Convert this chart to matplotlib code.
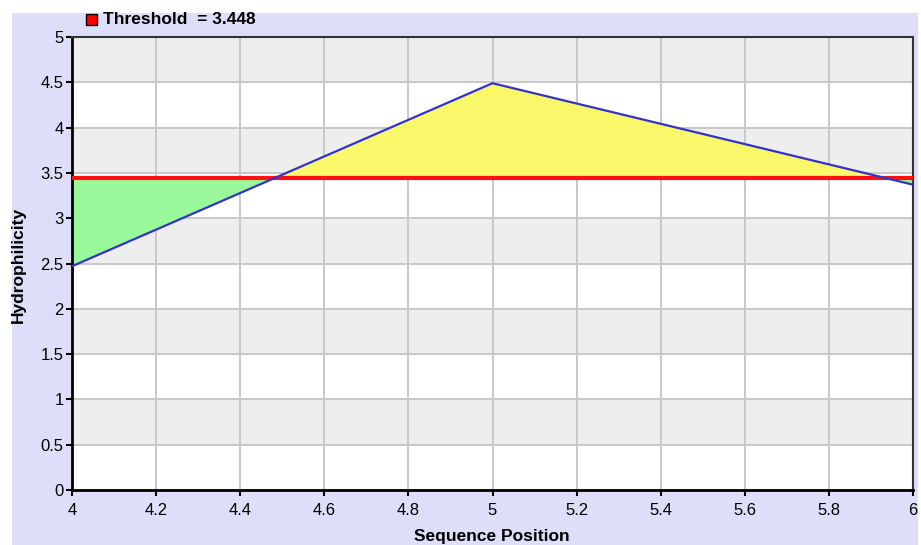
import numpy as np
import matplotlib.pyplot as plt
from matplotlib.patches import Rectangle

# data
positions = [4, 5, 6]
hydrophilicity = [2.47, 4.49, 3.37]
threshold = 3.448

x_ticks = [4, 4.2, 4.4, 4.6, 4.8, 5, 5.2, 5.4, 5.6, 5.8, 6]
x_tick_labels = ["4", "4.2", "4.4", "4.6", "4.8", "5", "5.2", "5.4", "5.6", "5.8", "6"]
y_ticks = [0, 0.5, 1, 1.5, 2, 2.5, 3, 3.5, 4, 4.5, 5]
y_tick_labels = ["0", "0.5", "1", "1.5", "2", "2.5", "3", "3.5", "4", "4.5", "5"]

plt.rcParams['font.family'] = ['Liberation Sans', 'DejaVu Sans']

fig = plt.figure(figsize=(9.21, 5.45), dpi=100)
fig.patch.set_facecolor("white")
fig.patches.append(Rectangle((0.013, 0.0), 0.984, 0.976, transform=fig.transFigure,
                             facecolor="#DEDEF8", edgecolor="none", zorder=-10))

ax = fig.add_axes([0.0782, 0.1009, 0.9131, 0.8312])
ax.set_facecolor("white")
ax.set_xlim(4, 6)
ax.set_ylim(0, 5)

# alternating bands
for i, lo in enumerate(y_ticks[:-1]):
    if i % 2 == 1:
        ax.axhspan(lo, lo + 0.5, color="#EEEEEE", zorder=0, lw=0)

ax.set_axisbelow(True)
ax.grid(True, color="#C8C8C8", linewidth=1.4, zorder=1)

x = np.array(positions, dtype=float)
y = np.array(hydrophilicity)
ax.fill_between(x, y, threshold, where=y >= threshold, interpolate=True,
                color="#F8F86A", lw=0, zorder=2)
ax.fill_between(x, y, threshold, where=y <= threshold, interpolate=True,
                color="#99F899", lw=0, zorder=2)
ax.axhline(threshold, color="#FF1010", linewidth=3, zorder=3)
ax.plot(x, y, color="#3333CC", linewidth=1.6, zorder=4)

ax.set_xticks(x_ticks)
ax.set_xticklabels(x_tick_labels)
ax.set_yticks(y_ticks)
ax.set_yticklabels(y_tick_labels)
ax.tick_params(axis="both", direction="out", length=4, width=1.5, labelsize=12,
               colors="black")
ax.tick_params(axis="x", pad=5)
ax.tick_params(axis="y", pad=2)

for side in ["left", "bottom"]:
    ax.spines[side].set_linewidth(2)
    ax.spines[side].set_color("black")
for side in ["top", "right"]:
    ax.spines[side].set_linewidth(1.5)
    ax.spines[side].set_color("#333333")

# axis titles placed like the reference
fig.text(492 / 921, 1 - 537 / 545, "Sequence Position", fontsize=12.5, fontweight="bold",
         ha="center", va="center")
fig.text(18 / 921, 1 - 265 / 545, "Hydrophilicity", fontsize=12.5, fontweight="bold",
         ha="center", va="center", rotation=90)

# legend entry at top
fig.patches.append(Rectangle((86 / 921, 1 - 25 / 545), 11 / 921, 11 / 545,
                             transform=fig.transFigure, facecolor="#FF0000",
                             edgecolor="black", linewidth=1))
fig.text(103 / 921, 1 - 19 / 545, "Threshold  = 3.448", fontsize=12.5, fontweight="bold",
         va="center", ha="left")

plt.savefig("out.png", dpi=100)
plt.close()
